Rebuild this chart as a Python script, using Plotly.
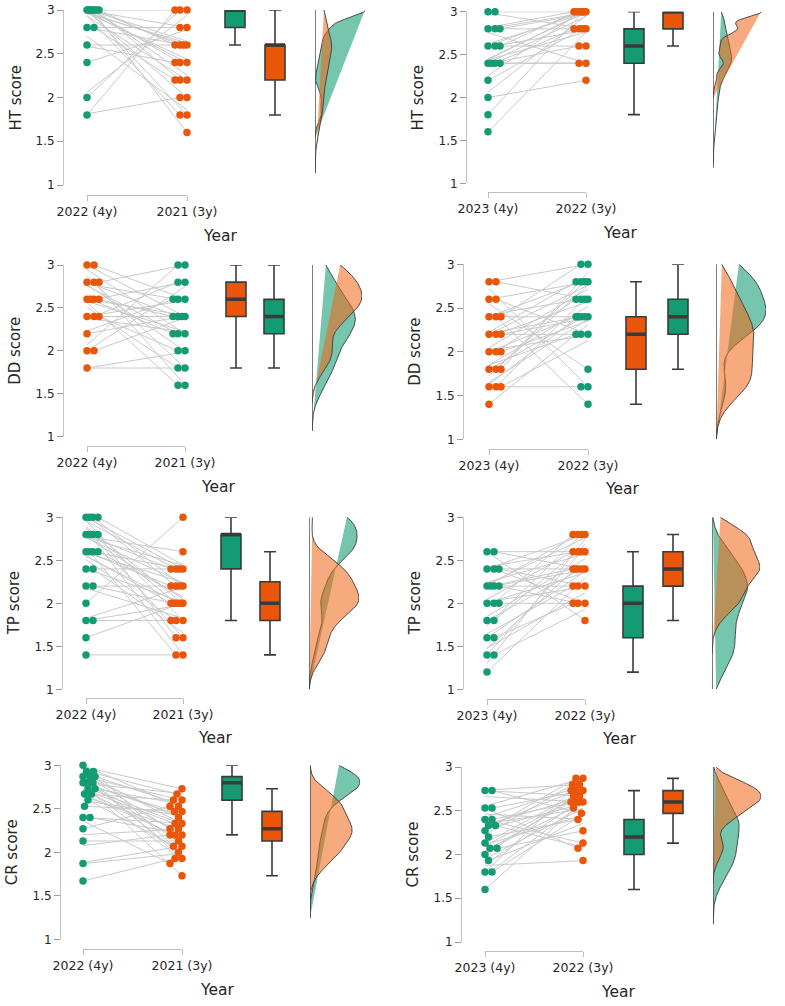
import numpy as np
import plotly.graph_objects as go

W, H = 785, 1006
FONT = "DejaVu Sans"
TXT = "#262626"
GREEN = "#149B74"
ORANGE = "#E9560A"
FILL = {GREEN: "rgba(27,158,119,0.6)", ORANGE: "rgba(240,100,20,0.55)"}

# ---------------- data ----------------
labels_left = ["2022 (4y)", "2021 (3y)"]
labels_right = ["2023 (4y)", "2022 (3y)"]

ht_l_4y = [3.0, 3.0, 3.0, 3.0, 3.0, 3.0, 3.0, 3.0, 3.0, 3.0, 3.0, 3.0, 3.0, 3.0, 3.0, 3.0, 3.0,
           2.8, 2.8, 2.8, 2.8, 2.6, 2.6, 2.4, 2.0, 2.0, 1.8, 1.8]
ht_l_3y = [3.0, 2.6, 2.6, 2.6, 2.6, 2.4, 2.4, 2.2, 2.2, 2.0, 1.8, 1.8, 1.6, 2.8, 2.6, 2.4, 2.2,
           2.6, 2.8, 2.2, 1.8, 2.6, 2.4, 2.8, 3.0, 3.0, 3.0, 2.0]

ht_r_4y = [3.0, 3.0, 3.0, 2.8, 2.8, 2.8, 2.8, 2.8, 2.6, 2.6, 2.6, 2.6, 2.6,
           2.4, 2.4, 2.4, 2.4, 2.4, 2.4, 2.4, 2.4, 2.2, 2.2, 2.0, 2.0, 1.8, 1.6]
ht_r_3y = [3.0, 2.8, 3.0, 3.0, 3.0, 2.8, 2.4, 3.0, 3.0, 3.0, 2.8, 2.6, 3.0,
           3.0, 3.0, 2.8, 2.8, 2.4, 2.4, 2.6, 3.0, 2.8, 3.0, 2.2, 3.0, 3.0, 2.8]

dd_l_4y = [3.0, 3.0, 3.0, 3.0, 2.8, 2.8, 2.8, 2.8, 2.8, 2.8,
           2.6, 2.6, 2.6, 2.6, 2.6, 2.6, 2.6, 2.4, 2.4, 2.4, 2.4, 2.4,
           2.2, 2.2, 2.0, 2.0, 2.0, 1.8, 1.8]
dd_l_3y = [2.4, 2.2, 2.6, 1.8, 2.4, 2.2, 1.6, 2.6, 3.0, 2.0,
           2.4, 2.2, 2.8, 1.8, 2.4, 1.6, 2.2, 2.6, 2.4, 2.8, 2.2, 2.0,
           2.4, 2.6, 2.8, 3.0, 2.4, 2.0, 1.8]

dd_r_4y = [2.8, 2.8, 2.8, 2.6, 2.6, 2.6, 2.4, 2.4, 2.4, 2.4, 2.4,
           2.2, 2.2, 2.2, 2.2, 2.2, 2.2, 2.0, 2.0, 2.0, 2.0, 2.0,
           1.8, 1.8, 1.8, 1.8, 1.8, 1.6, 1.6, 1.6, 1.6, 1.6, 1.6, 1.4]
dd_r_3y = [3.0, 1.6, 2.6, 2.8, 1.8, 2.2, 2.8, 2.4, 1.4, 2.6, 3.0,
           2.8, 2.4, 2.6, 2.2, 2.4, 2.8, 2.4, 2.8, 2.6, 2.2, 2.4,
           2.4, 2.6, 2.8, 2.2, 3.0, 1.6, 2.4, 2.6, 2.8, 2.2, 2.4, 2.4]

tp_l_4y = [3.0, 3.0, 3.0, 3.0, 3.0, 3.0, 3.0, 3.0, 2.8, 2.8, 2.8, 2.8, 2.8, 2.8, 2.8, 2.8,
           2.6, 2.6, 2.6, 2.6, 2.6, 2.6, 2.6, 2.6, 2.4, 2.4, 2.4, 2.2, 2.2, 2.2,
           2.0, 1.8, 1.8, 1.8, 1.6, 1.4]
tp_l_3y = [2.4, 2.4, 2.2, 2.0, 2.4, 1.8, 2.2, 1.6, 2.4, 2.2, 2.0, 2.6, 1.6, 2.0, 1.4, 2.4,
           2.2, 2.0, 2.4, 1.8, 2.0, 2.2, 1.4, 2.0, 2.0, 2.4, 1.6, 2.2, 1.8, 2.0,
           3.0, 2.0, 2.2, 1.8, 2.0, 1.4]

tp_r_4y = [2.6, 2.6, 2.6, 2.4, 2.4, 2.4, 2.4, 2.4, 2.2, 2.2, 2.2, 2.2, 2.2, 2.2, 2.2,
           2.0, 2.0, 2.0, 2.0, 2.0, 1.8, 1.8, 1.8, 1.6, 1.6, 1.6, 1.6,
           1.4, 1.4, 1.4, 1.4, 1.2, 1.2]
tp_r_3y = [1.8, 2.6, 2.4, 2.8, 2.4, 2.0, 2.6, 2.2, 2.8, 2.2, 2.4, 2.6, 2.0, 2.8, 2.4,
           2.4, 2.6, 2.8, 2.2, 2.0, 2.4, 2.6, 2.8, 2.4, 2.2, 2.0, 2.8,
           2.6, 2.4, 2.0, 2.2, 2.4, 2.8]

cr_l_4y = [3.0, 3.0, 2.93, 2.93, 2.93, 2.93, 2.87, 2.87, 2.87, 2.87, 2.87,
           2.8, 2.8, 2.8, 2.8, 2.8, 2.8, 2.8, 2.73, 2.73, 2.73, 2.73,
           2.67, 2.67, 2.67, 2.6, 2.6, 2.53, 2.4, 2.4, 2.4, 2.27, 2.2, 2.13,
           2.07, 1.87, 1.87, 1.67]
cr_l_3y = [2.53, 2.73, 2.27, 2.67, 2.4, 2.07, 2.6, 2.2, 2.33, 1.87, 2.53,
           2.47, 2.13, 2.27, 1.93, 2.4, 2.67, 2.0, 2.2, 2.53, 2.33, 1.73,
           2.27, 2.13, 2.6, 2.4, 2.0, 2.47, 2.33, 1.87, 2.2, 2.53, 2.27, 2.13,
           2.2, 2.0, 2.07, 1.93]

cr_r_4y = [2.73, 2.73, 2.73, 2.67, 2.53, 2.53, 2.53, 2.47, 2.4, 2.4, 2.4,
           2.33, 2.33, 2.33, 2.33, 2.27, 2.27, 2.2, 2.2, 2.13, 2.07, 2.07,
           2.07, 2.07, 2.0, 2.0, 1.93, 1.93, 1.87, 1.8, 1.8, 1.8, 1.73, 1.6]
cr_r_3y = [2.67, 2.8, 2.47, 2.6, 2.07, 2.87, 2.73, 2.4, 2.13, 2.8, 2.6,
           2.67, 2.73, 2.53, 2.07, 2.87, 2.6, 2.8, 2.4, 2.67, 2.73, 2.6,
           2.47, 2.27, 2.8, 2.53, 2.6, 2.4, 1.93, 2.73, 2.53, 2.6, 2.67, 2.73]

# box statistics per group: [q1, median, q3, lower whisker, upper whisker]
ht_l_box_4y = [2.8, 3.0, 3.0, 2.6, 3.0]
ht_l_box_3y = [2.2, 2.6, 2.6, 1.8, 3.0]
ht_r_box_4y = [2.4, 2.6, 2.8, 1.8, 3.0]
ht_r_box_3y = [2.8, 3.0, 3.0, 2.6, 3.0]
dd_l_box_4y = [2.4, 2.6, 2.8, 1.8, 3.0]
dd_l_box_3y = [2.2, 2.4, 2.6, 1.8, 3.0]
dd_r_box_4y = [1.8, 2.2, 2.4, 1.4, 2.8]
dd_r_box_3y = [2.2, 2.4, 2.6, 1.8, 3.0]
tp_l_box_4y = [2.4, 2.8, 2.8, 1.8, 3.0]
tp_l_box_3y = [1.8, 2.0, 2.25, 1.4, 2.6]
tp_r_box_4y = [1.6, 2.0, 2.2, 1.2, 2.6]
tp_r_box_3y = [2.2, 2.4, 2.6, 1.8, 2.8]
cr_l_box_4y = [2.6, 2.8, 2.87, 2.2, 3.0]
cr_l_box_3y = [2.13, 2.27, 2.47, 1.73, 2.73]
cr_r_box_4y = [2.0, 2.2, 2.4, 1.6, 2.73]
cr_r_box_3y = [2.47, 2.6, 2.73, 2.13, 2.87]

# ---------------- panel layout (pixels) ----------------
PANELS = [
    dict(title="HT score", labels=labels_left, a=ht_l_4y, b=ht_l_3y, ba=ht_l_box_4y, bb=ht_l_box_3y,
         colors=(GREEN, ORANGE), yx=63, cat=(87, 187), bx=(235, 275), base=315, dw=50,
         y3=10, y1=185, xb=195, tx=15, year=(220, 236)),
    dict(title="HT score", labels=labels_right, a=ht_r_4y, b=ht_r_3y, ba=ht_r_box_4y, bb=ht_r_box_3y,
         colors=(GREEN, ORANGE), yx=466, cat=(488, 586), bx=(634, 673), base=713, dw=48,
         y3=11.7, y1=183.3, xb=192, tx=417, year=(620, 233)),
    dict(title="DD score", labels=labels_left, a=dd_l_4y, b=dd_l_3y, ba=dd_l_box_4y, bb=dd_l_box_3y,
         colors=(ORANGE, GREEN), yx=63, cat=(87, 185), bx=(236, 274), base=312, dw=50,
         y3=265, y1=436.7, xb=445.7, tx=15, year=(218, 487)),
    dict(title="DD score", labels=labels_right, a=dd_r_4y, b=dd_r_3y, ba=dd_r_box_4y, bb=dd_r_box_3y,
         colors=(ORANGE, GREEN), yx=463, cat=(489, 588), bx=(636, 678), base=716, dw=50,
         y3=264.3, y1=439.3, xb=449, tx=415, year=(622, 489)),
    dict(title="TP score", labels=labels_left, a=tp_l_4y, b=tp_l_3y, ba=tp_l_box_4y, bb=tp_l_box_3y,
         colors=(GREEN, ORANGE), yx=62, cat=(86, 183), bx=(231, 270), base=309, dw=50,
         y3=517.3, y1=689.3, xb=698, tx=14, year=(215, 738)),
    dict(title="TP score", labels=labels_right, a=tp_r_4y, b=tp_r_3y, ba=tp_r_box_4y, bb=tp_r_box_3y,
         colors=(GREEN, ORANGE), yx=463, cat=(487, 585), bx=(633, 673), base=712, dw=48,
         y3=517.3, y1=689.3, xb=699, tx=415, year=(619, 739)),
    dict(title="CR score", labels=labels_left, a=cr_l_4y, b=cr_l_3y, ba=cr_l_box_4y, bb=cr_l_box_3y,
         colors=(GREEN, ORANGE), yx=60, cat=(83, 182), bx=(232, 272), base=310, dw=50,
         y3=765.3, y1=939.3, xb=948.7, tx=12, year=(217, 990)),
    dict(title="CR score", labels=labels_right, a=cr_r_4y, b=cr_r_3y, ba=cr_r_box_4y, bb=cr_r_box_3y,
         colors=(GREEN, ORANGE), yx=461, cat=(485, 583), bx=(634, 673), base=713, dw=48,
         y3=767, y1=942, xb=951, tx=412, year=(618, 992)),
]


def pxx(x):
    return x / W


def pxy(y):
    return 1 - y / H


def swarm(vals, ppu, D=7.0, half=12.0):
    """horizontal pixel offsets so dots at close values do not pile up"""
    v = np.asarray(vals, float)
    order = np.argsort(-v, kind="stable")
    cand = np.arange(-half, half + 0.01, 0.5)
    cand = cand[np.lexsort((cand, np.abs(cand)))]
    placed = []
    off = np.zeros(len(v))
    for i in order:
        yv = v[i] * ppu
        best, bs = 0.0, -1.0
        for c in cand:
            if placed:
                d = min(np.hypot(c - p[0], yv - p[1]) for p in placed)
            else:
                d = np.inf
            s = min(d, D)
            if s > bs + 1e-9:
                bs, best = s, c
        off[i] = best
        placed.append((best, yv))
    return off


def kde(vals):
    v = np.asarray(vals, float)
    n = len(v)
    q75, q25 = np.percentile(v, [75, 25])
    sd = v.std(ddof=1)
    s = min(sd, (q75 - q25) / 1.34) if q75 > q25 else sd
    bw = 0.9 * s * n ** -0.2
    lo = max(v.min() - 3 * bw, 1.0)
    hi = min(v.max() + 3 * bw, 3.0)
    g = np.linspace(lo, hi, 400)
    d = np.exp(-0.5 * ((g[:, None] - v[None, :]) / bw) ** 2).sum(1) / (n * bw * np.sqrt(2 * np.pi))
    return g, d


def ref(prefix, k):
    return prefix if k == 1 else f"{prefix}{k}"


def key(prefix, k):
    return f"{prefix}axis" if k == 1 else f"{prefix}axis{k}"


fig = go.Figure()
lay = {}
ann = []

for i, p in enumerate(PANELS):
    kd, kb, kv = 3 * i + 1, 3 * i + 2, 3 * i + 3
    ky = i + 1
    xd, xbx, xv, yy = ref("x", kd), ref("x", kb), ref("x", kv), ref("y", ky)
    ca, cb = p["colors"]
    a = np.asarray(p["a"], float)
    b = np.asarray(p["b"], float)
    ppu = (p["y1"] - p["y3"]) / 2.0
    span = p["cat"][1] - p["cat"][0]
    xa = 0 + swarm(a, ppu) / span
    xbb = 1 + swarm(b, ppu) / span

    # connecting lines
    lx, ly = [], []
    for j in range(len(a)):
        lx += [xa[j], xbb[j], None]
        ly += [a[j], b[j], None]
    fig.add_trace(go.Scatter(x=lx, y=ly, xaxis=xd, yaxis=yy, mode="lines",
                             line=dict(color="#c9c9c9", width=1), cliponaxis=False, hoverinfo="skip"))
    fig.add_trace(go.Scatter(x=xa, y=a, xaxis=xd, yaxis=yy, mode="markers",
                             marker=dict(color=ca, size=7.5), cliponaxis=False, hoverinfo="skip"))
    fig.add_trace(go.Scatter(x=xbb, y=b, xaxis=xd, yaxis=yy, mode="markers",
                             marker=dict(color=cb, size=7.5), cliponaxis=False, hoverinfo="skip"))

    # boxes
    bs = p["bx"][1] - p["bx"][0]
    bw_units = 20.0 / bs
    for pos, st, col in ((0.5, p["ba"], ca), (1.5, p["bb"], cb)):
        fig.add_trace(go.Box(x=[pos], q1=[st[0]], median=[st[1]], q3=[st[2]],
                             lowerfence=[st[3]], upperfence=[st[4]], width=bw_units,
                             xaxis=xbx, yaxis=yy, fillcolor=col, boxpoints=False,
                             line=dict(color="#3a3a3a", width=1.6), whiskerwidth=0.6,
                             hoverinfo="skip"))
        fig.add_trace(go.Scatter(x=[pos - bw_units / 2, pos + bw_units / 2], y=[st[1], st[1]],
                                 xaxis=xbx, yaxis=yy, mode="lines",
                                 line=dict(color="#3a3a3a", width=3.5), cliponaxis=False,
                                 hoverinfo="skip"))

    # densities
    dens = {ca: kde(a), cb: kde(b)}
    dmax = max(dens[ca][1].max(), dens[cb][1].max())
    for col in (GREEN, ORANGE):
        g, d = dens[col]
        fig.add_trace(go.Scatter(x=d / dmax, y=g, xaxis=xv, yaxis=yy, mode="lines",
                                 fill="toself", fillcolor=FILL[col],
                                 line=dict(color="#3b3b3b", width=0.9), cliponaxis=False,
                                 hoverinfo="skip"))
    ylo = min(dens[ca][0][0], dens[cb][0][0])
    yhi = max(dens[ca][0][-1], dens[cb][0][-1])
    fig.add_trace(go.Scatter(x=[0, 0], y=[ylo, yhi], xaxis=xv, yaxis=yy, mode="lines",
                             line=dict(color="#444444", width=1.4), cliponaxis=False,
                             hoverinfo="skip"))

    ydom = [pxy(p["y1"]), pxy(p["y3"])]
    lay[key("y", ky)] = dict(domain=ydom, range=[1, 3], anchor="free", position=pxx(p["yx"]),
                             automargin=False,
                             tickmode="array", tickvals=[1, 1.5, 2, 2.5, 3],
                             ticktext=["1", "1.5", "2", "2.5", "3"],
                             showline=True, linecolor="#c4c4c4", linewidth=1,
                             ticks="outside", ticklen=6, tickcolor="#9a9a9a",
                             showgrid=False, zeroline=False,
                             tickfont=dict(family=FONT, size=12, color=TXT))
    lay[key("x", kd)] = dict(domain=[pxx(p["cat"][0]), pxx(p["cat"][1])], range=[0, 1],
                             anchor="free", position=pxy(p["xb"]), automargin=False,
                             tickmode="array", tickvals=[0, 1], ticktext=p["labels"],
                             showline=True, linecolor="#bdbdbd", linewidth=1,
                             ticks="outside", ticklen=5, tickcolor="#bdbdbd",
                             showgrid=False, zeroline=False,
                             tickfont=dict(family=FONT, size=12.5, color=TXT))
    lay[key("x", kb)] = dict(domain=[pxx(p["bx"][0] - bs / 2), pxx(p["bx"][1] + bs / 2)],
                             range=[0, 2], anchor="free", position=0, visible=False,
                             automargin=False)
    lay[key("x", kv)] = dict(domain=[pxx(p["base"]), pxx(p["base"] + p["dw"])],
                             range=[0, 1], anchor="free", position=0, visible=False,
                             automargin=False)

    ann.append(dict(x=pxx(p["tx"]), y=pxy((p["y1"] + p["y3"]) / 2), xref="paper", yref="paper",
                    xanchor="center", yanchor="middle",
                    text=p["title"], textangle=-90, showarrow=False,
                    font=dict(family=FONT, size=15, color=TXT)))
    ann.append(dict(x=pxx(p["year"][0]), y=pxy(p["year"][1]), xref="paper", yref="paper",
                    xanchor="center", yanchor="middle",
                    text="Year", showarrow=False, font=dict(family=FONT, size=15.5, color=TXT)))

fig.update_layout(width=W, height=H, autosize=False,
                  margin=dict(l=0, r=0, t=0, b=0, pad=0, autoexpand=False),
                  paper_bgcolor="white", plot_bgcolor="rgba(0,0,0,0)", showlegend=False,
                  hovermode=False, annotations=ann, **lay)
fig.write_html("out.html", config={"displayModeBar": False},
               post_script="document.body.style.margin='0';document.body.style.overflow='hidden';")
